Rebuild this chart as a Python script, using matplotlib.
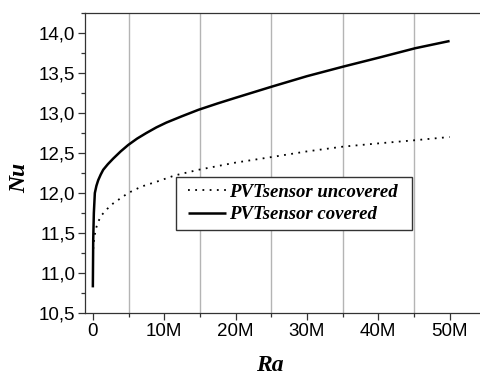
import numpy as np
import matplotlib
matplotlib.use("Agg")
import matplotlib.pyplot as plt
from matplotlib.patches import Rectangle
from matplotlib.ticker import MultipleLocator, FuncFormatter

# values (Ra in units of 1, Nu dimensionless)
ra_covered = [0.0, 0.05e6, 0.14e6, 0.28e6, 0.5e6, 0.75e6, 1.1e6, 1.45e6,
              2.1e6, 2.85e6, 3.9e6, 4.95e6, 6.2e6, 7.5e6, 8.9e6, 10.3e6,
              12.5e6, 14.8e6, 17.5e6, 20.0e6, 25.1e6, 30.0e6, 35.1e6,
              40.0e6, 45.2e6, 50.0e6]
nu_covered = [10.82, 11.41, 11.75, 12.0, 12.09, 12.16, 12.23, 12.29,
              12.36, 12.43, 12.52, 12.6, 12.68, 12.75, 12.82, 12.88,
              12.96, 13.04, 13.12, 13.19, 13.33, 13.46, 13.58,
              13.69, 13.81, 13.9]

ra_uncovered = [0.05e6, 0.2e6, 0.52e6, 0.8e6, 1.2e6, 2.0e6, 2.85e6, 4.95e6,
                6.8e6, 8.9e6, 11.5e6, 14.8e6, 20.0e6, 25.1e6, 30.0e6,
                35.1e6, 40.0e6, 45.2e6, 50.0e6]
nu_uncovered = [11.3, 11.45, 11.58, 11.65, 11.72, 11.8, 11.87, 12.0,
                12.08, 12.14, 12.22, 12.29, 12.38, 12.45, 12.52,
                12.58, 12.62, 12.66, 12.70]

labels = ["PVTsensor uncovered", "PVTsensor covered"]

W, H = 481, 372
fig = plt.figure(figsize=(W / 100, H / 100), dpi=100)
ax = fig.add_axes([85 / W, 1 - 313 / H, (W - 85) / W, (313 - 13) / H])

spine_col = "#333333"
ax.plot(ra_uncovered, nu_uncovered, color="black", lw=1.3,
        linestyle=(0, (1, 3)), label=labels[0])
ax.plot(ra_covered, nu_covered, color="black", lw=1.8,
        solid_capstyle="butt", label=labels[1])

ax.set_xlim(-1.1e6, 54.4e6)
ax.set_ylim(10.5, 14.25)

ax.xaxis.set_major_locator(MultipleLocator(10e6))
ax.xaxis.set_minor_locator(MultipleLocator(10e6, offset=5e6))
ax.yaxis.set_major_locator(MultipleLocator(0.5))
ax.yaxis.set_minor_locator(MultipleLocator(0.25))

ax.xaxis.set_major_formatter(FuncFormatter(
    lambda v, p: "0" if abs(v) < 1 else f"{v / 1e6:.0f}M"))
ax.yaxis.set_major_formatter(FuncFormatter(
    lambda v, p: f"{v:.1f}".replace(".", ",")))

ax.grid(which="minor", axis="x", color="#b4b4b4", lw=1.0)
ax.set_axisbelow(True)

ax.spines["right"].set_visible(False)
for side in ["top", "left", "bottom"]:
    ax.spines[side].set_color(spine_col)
    ax.spines[side].set_linewidth(0.9)

ax.tick_params(which="major", direction="out", length=5, width=0.9,
               color=spine_col, labelsize=13.5, pad=2)
ax.tick_params(which="minor", direction="out", length=3, width=0.9,
               color=spine_col)
for t in ax.get_xticklabels() + ax.get_yticklabels():
    t.set_fontfamily("Liberation Sans")

fig.text(20 / W, 1 - 178 / H, "Nu", family="Liberation Serif",
         weight="bold", style="italic", fontsize=17, rotation=90,
         ha="center", va="center")
fig.text(270 / W, 1 - 355 / H, "Ra", family="Liberation Serif",
         weight="bold", style="italic", fontsize=17, ha="center", va="top")

# legend box drawn separately: wider side padding than matplotlib gives
box = Rectangle((176 / W, 1 - 230 / H), (412 - 176) / W, (230 - 177) / H,
                transform=fig.transFigure, facecolor="white",
                edgecolor=spine_col, lw=1.0, zorder=4)
ax.add_artist(box)
box.set_clip_on(False)
leg = ax.legend(loc="center", bbox_to_anchor=(293 / W, 1 - 203.5 / H),
                bbox_transform=fig.transFigure, frameon=False,
                prop={"family": "Liberation Serif", "weight": "bold",
                      "style": "italic", "size": 13.5},
                borderpad=0, labelspacing=0.3, handlelength=2.0,
                handletextpad=0.2, borderaxespad=0)
leg.set_zorder(5)

fig.savefig("out.png", dpi=100)
